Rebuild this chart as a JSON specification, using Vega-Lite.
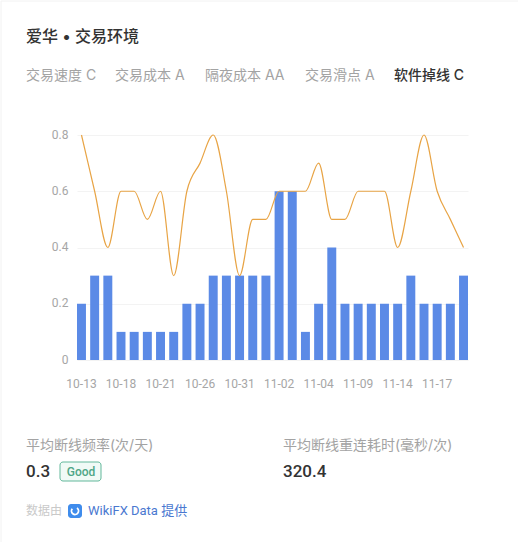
{
"$schema":"https://vega.github.io/schema/vega-lite/v6.json",
"width":391,"height":225,"autosize":"none",
"padding":{"left":77,"top":135,"right":50,"bottom":182},
"background":"white",
"view":{"stroke":null},
"config":{"text":{"font":"Inter, Noto Sans CJK SC","align":"left","baseline":"middle"}},
"layer":[
{"data":{"values":[{}]},"mark":{"type":"rect","x":-76,"x2":460,"y":-134,"y2":420,"fill":null,"stroke":"#f2f2f2"}},
{"data":{"name":"main","values":[
{"date":"10-13","bar":0.2,"line":0.8},
{"date":"10-14","bar":0.3,"line":0.6},
{"date":"10-15","bar":0.3,"line":0.4},
{"date":"10-18","bar":0.1,"line":0.6},
{"date":"10-19","bar":0.1,"line":0.6},
{"date":"10-20","bar":0.1,"line":0.5},
{"date":"10-21","bar":0.1,"line":0.6},
{"date":"10-22","bar":0.1,"line":0.3},
{"date":"10-25","bar":0.2,"line":0.6},
{"date":"10-26","bar":0.2,"line":0.7},
{"date":"10-27","bar":0.3,"line":0.8},
{"date":"10-28","bar":0.3,"line":0.6},
{"date":"10-31","bar":0.3,"line":0.3},
{"date":"11-01","bar":0.3,"line":0.5},
{"date":"11-01b","bar":0.3,"line":0.5},
{"date":"11-02","bar":0.6,"line":0.6},
{"date":"11-03","bar":0.6,"line":0.6},
{"date":"11-03b","bar":0.1,"line":0.6},
{"date":"11-04","bar":0.2,"line":0.7},
{"date":"11-05","bar":0.4,"line":0.5},
{"date":"11-08","bar":0.2,"line":0.5},
{"date":"11-09","bar":0.2,"line":0.6},
{"date":"11-10","bar":0.2,"line":0.6},
{"date":"11-11","bar":0.2,"line":0.6},
{"date":"11-14","bar":0.2,"line":0.4},
{"date":"11-15","bar":0.3,"line":0.6},
{"date":"11-16","bar":0.2,"line":0.8},
{"date":"11-17","bar":0.2,"line":0.6},
{"date":"11-18","bar":0.2,"line":0.5},
{"date":"11-19","bar":0.3,"line":0.4}
]},
"layer":[
{"mark":{"type":"bar","color":"#5b8ae6"},
 "encoding":{
  "x":{"field":"date","type":"ordinal","sort":null,"title":null,
   "scale":{"paddingInner":0.32,"paddingOuter":0},
   "axis":{"values":["10-13","10-18","10-21","10-26","10-31","11-02","11-04","11-09","11-14","11-17"],"domain":false,"ticks":false,"labelAngle":0,"labelPadding":18,"labelFont":"Roboto","labelFontSize":12,"labelFontWeight":400,"labelColor":"#a6a6a6","grid":false}},
  "y":{"field":"bar","type":"quantitative","title":null,
   "scale":{"domain":[0,0.8]},
   "axis":{"values":[0,0.2,0.4,0.6,0.8],"format":"~g","domain":false,"ticks":false,"labelPadding":9,"labelOffset":-1,"labelFont":"Roboto","labelFontSize":12,"labelFontWeight":400,"labelColor":"#a6a6a6","gridColor":"#f3f3f3"}}
 }},
{"mark":{"type":"line","color":"#e8a445","strokeWidth":1.2,"interpolate":"monotone"},
 "encoding":{
  "x":{"field":"date","type":"ordinal","sort":null},
  "y":{"field":"line","type":"quantitative"}
 }}
]},
{"data":{"values":[{"label":"爱华 • 交易环境"}]},"mark":{"type":"text","x":-51,"y":-98,"fontSize":16,"fontWeight":500,"color":"#333333"},"encoding":{"text":{"field":"label"}}},
{"data":{"values":[{"label":"交易速度 C"}]},"mark":{"type":"text","x":-51,"y":-59,"fontSize":14,"color":"#a3a3a3"},"encoding":{"text":{"field":"label"}}},
{"data":{"values":[{"label":"交易成本 A"}]},"mark":{"type":"text","x":38,"y":-59,"fontSize":14,"color":"#a3a3a3"},"encoding":{"text":{"field":"label"}}},
{"data":{"values":[{"label":"隔夜成本 AA"}]},"mark":{"type":"text","x":128,"y":-59,"fontSize":14,"color":"#a3a3a3"},"encoding":{"text":{"field":"label"}}},
{"data":{"values":[{"label":"交易滑点 A"}]},"mark":{"type":"text","x":228,"y":-59,"fontSize":14,"color":"#a3a3a3"},"encoding":{"text":{"field":"label"}}},
{"data":{"values":[{"label":"软件掉线 C"}]},"mark":{"type":"text","x":317,"y":-59,"fontSize":14,"fontWeight":500,"color":"#333333"},"encoding":{"text":{"field":"label"}}},
{"data":{"values":[{}]},"mark":{"type":"rule","x":-51,"x2":441,"y":-40,"y2":-40,"color":"#f0f0f0","strokeWidth":1},"encoding":{}},
{"data":{"values":[{}]},"mark":{"type":"rule","x":318,"x2":388,"y":-40,"y2":-40,"color":"#555555","strokeWidth":1},"encoding":{}},
{"data":{"values":[{"label":"平均断线频率(次/天)"}]},"mark":{"type":"text","x":-51,"y":311,"fontSize":14,"color":"#a3a3a3"},"encoding":{"text":{"field":"label"}}},
{"data":{"values":[{"label":"平均断线重连耗时(毫秒/次)"}]},"mark":{"type":"text","x":206,"y":311,"fontSize":14,"color":"#a3a3a3"},"encoding":{"text":{"field":"label"}}},
{"data":{"values":[{"label":"0.3"}]},"mark":{"type":"text","x":-51,"y":337,"font":"Roboto","fontSize":17,"fontWeight":500,"color":"#333333"},"encoding":{"text":{"field":"label"}}},
{"data":{"values":[{"label":"320.4"}]},"mark":{"type":"text","x":206,"y":337,"font":"Roboto","fontSize":17,"fontWeight":500,"color":"#333333"},"encoding":{"text":{"field":"label"}}},
{"data":{"values":[{}]},"mark":{"type":"rect","x":-17,"x2":24,"y":327,"y2":346,"fill":"#f0faf6","stroke":"#62b89b","cornerRadius":3}},
{"data":{"values":[{"label":"Good"}]},"mark":{"type":"text","x":4,"y":337,"align":"center","font":"Roboto","fontSize":12,"fontWeight":500,"color":"#4fa686"},"encoding":{"text":{"field":"label"}}},
{"data":{"values":[{"label":"数据由"}]},"mark":{"type":"text","x":-51,"y":376,"fontSize":12,"color":"#c9c9c9"},"encoding":{"text":{"field":"label"}}},
{"data":{"values":[{}]},"mark":{"type":"rect","x":-9,"x2":5,"y":369,"y2":383,"fill":"#3f8cec","cornerRadius":3}},
{"data":{"values":[{}]},"mark":{"type":"arc","x":-2,"y":376,"innerRadius":2.6,"outerRadius":4.4,"theta":0.6,"theta2":5.4,"fill":"#ffffff"}},
{"data":{"values":[{"label":"WikiFX Data 提供"}]},"mark":{"type":"text","x":11,"y":376,"font":"Roboto, Noto Sans CJK SC","fontSize":13,"color":"#4a78d0"},"encoding":{"text":{"field":"label"}}}
]
}
